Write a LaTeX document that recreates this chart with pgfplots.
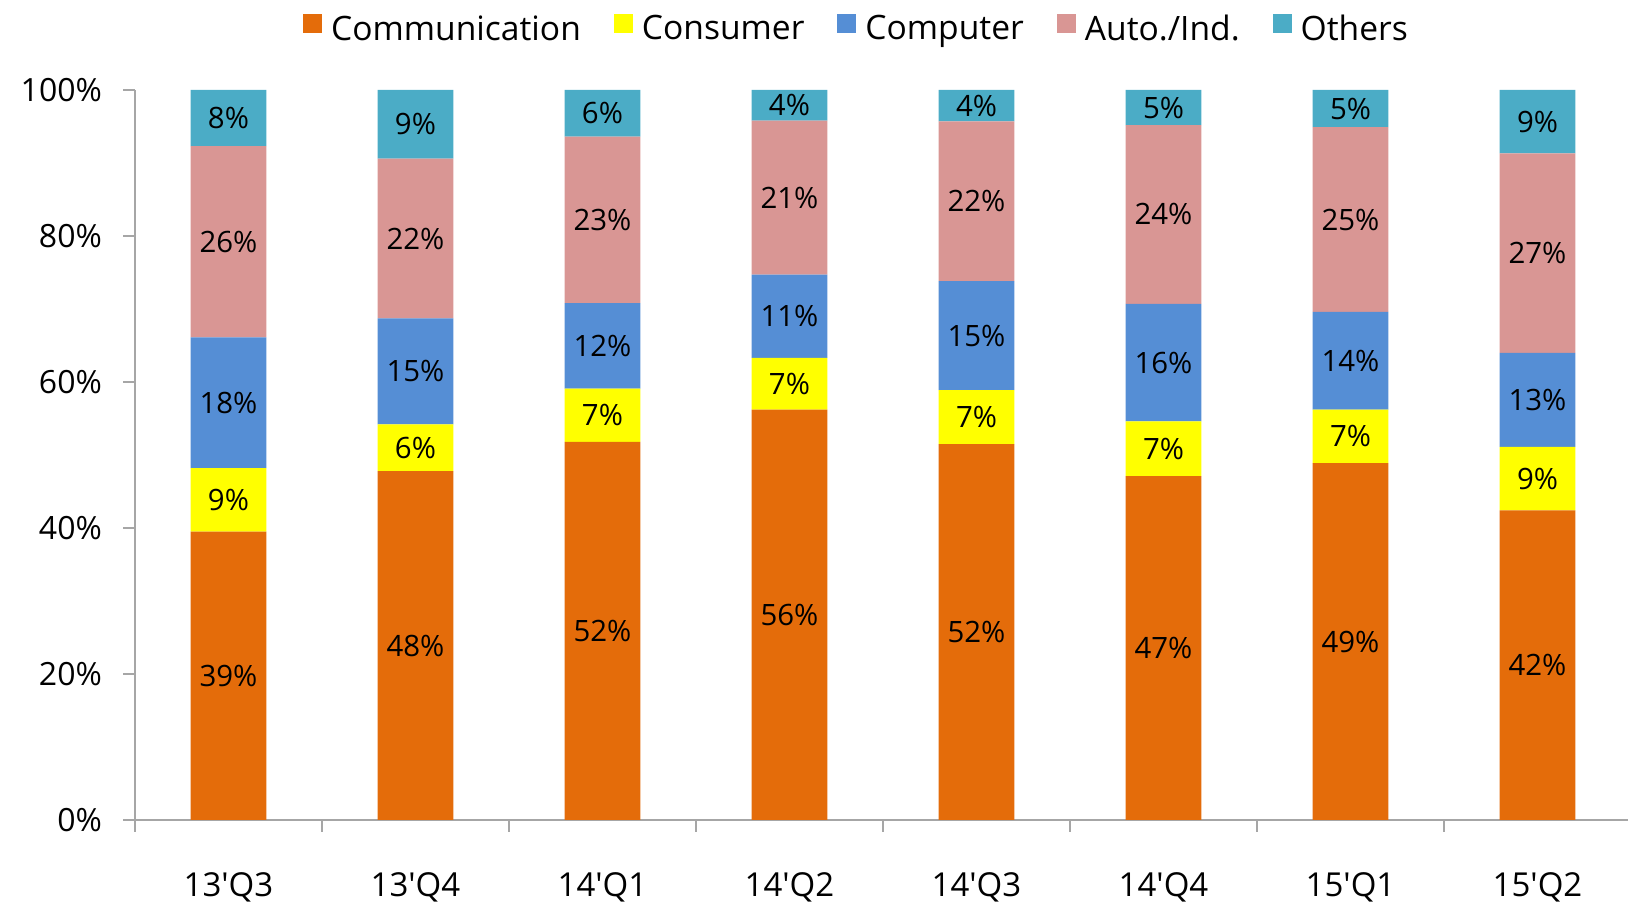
\documentclass[border=0pt]{standalone}
\usepackage{pgfplots}
\pgfplotsset{compat=1.18}
\usepackage{fontspec}
\newfontfamily\osf{Open Sans}
\definecolor{cComm}{HTML}{E46C0A}
\definecolor{cCons}{HTML}{FFFF00}
\definecolor{cComp}{HTML}{558ED5}
\definecolor{cAuto}{HTML}{D99694}
\definecolor{cOth}{HTML}{4BACC6}
\definecolor{axgray}{HTML}{A6A6A6}
\begin{document}
\begin{tikzpicture}
\useasboundingbox (0,0) rectangle (814pt,451.5pt);
\begin{axis}[
  at={(67.5pt,41.5pt)}, anchor=south west,
  scale only axis, width=748pt, height=365pt,
  ybar stacked, bar width=37.9pt,
  xmin=-0.5, xmax=7.5, ymin=0, ymax=100,
  axis lines*=left,
  axis line style={axgray, line width=0.9pt, -},
  tick style={axgray, line width=0.9pt},
  tick align=outside,
  major tick length=6pt, minor tick length=6pt,
  xtick={0,...,7},
  xticklabels={13'Q3,13'Q4,14'Q1,14'Q2,14'Q3,14'Q4,15'Q1,15'Q2},
  major x tick style={draw=none},
  minor xtick={-0.5,0.5,...,7.5},
  ytick={0,20,...,100},
  yticklabels={0\%,20\%,40\%,60\%,80\%,100\%},
  /pgf/number format/assume math mode=true,
  xticklabel style={font=\osf\fontsize{16.5}{18}\selectfont, yshift=-17pt},
  yticklabel style={font=\osf\fontsize{16}{18}\selectfont, xshift=-7pt},
  nodes near coords,
  point meta=explicit symbolic,
  nodes near coords align={center},
  every node near coord/.append style={anchor=center, font=\osf\fontsize{14.7}{16}\selectfont, text=black, inner sep=0pt},
  legend style={at={(0.483,1)}, anchor=south, yshift=19pt, draw=none, fill=none,
    legend columns=-1, font=\osf\fontsize{16.8}{18}\selectfont,
    /tikz/every even column/.append style={column sep=14.5pt},
    /tikz/every odd column/.append style={column sep=2.5pt},
    nodes={inner sep=2pt}},
  legend image code/.code={\fill[#1] (0pt,-1.9pt) rectangle (9.5pt,7.6pt);},
  clip=false,
]
\addplot[fill=cComm, draw=none] coordinates {(0,39.5)[39\%] (1,47.8)[48\%] (2,51.8)[52\%] (3,56.2)[56\%] (4,51.5)[52\%] (5,47.1)[47\%] (6,48.9)[49\%] (7,42.4)[42\%]};
\addplot[fill=cCons, draw=none] coordinates {(0,8.7)[9\%] (1,6.4)[6\%] (2,7.3)[7\%] (3,7.1)[7\%] (4,7.4)[7\%] (5,7.5)[7\%] (6,7.3)[7\%] (7,8.7)[9\%]};
\addplot[fill=cComp, draw=none] coordinates {(0,17.9)[18\%] (1,14.5)[15\%] (2,11.7)[12\%] (3,11.4)[11\%] (4,14.9)[15\%] (5,16.1)[16\%] (6,13.4)[14\%] (7,12.9)[13\%]};
\addplot[fill=cAuto, draw=none] coordinates {(0,26.2)[26\%] (1,21.9)[22\%] (2,22.8)[23\%] (3,21.1)[21\%] (4,21.9)[22\%] (5,24.5)[24\%] (6,25.3)[25\%] (7,27.3)[27\%]};
\addplot[fill=cOth, draw=none] coordinates {(0,7.7)[8\%] (1,9.4)[9\%] (2,6.4)[6\%] (3,4.2)[4\%] (4,4.3)[4\%] (5,4.8)[5\%] (6,5.1)[5\%] (7,8.7)[9\%]};
\legend{Communication,Consumer,Computer,Auto./Ind.,Others}
\end{axis}
\end{tikzpicture}
\end{document}
